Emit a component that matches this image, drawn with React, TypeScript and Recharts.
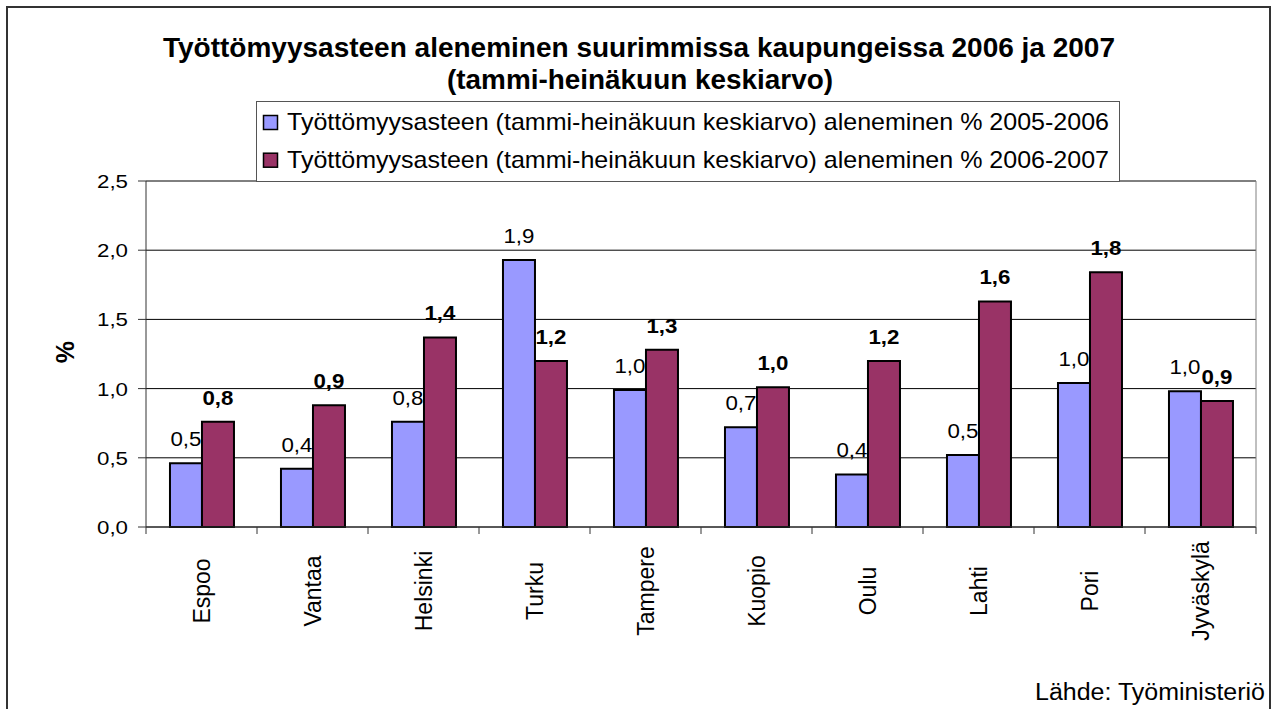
import React from 'react';
import { BarChart, Bar, XAxis, YAxis, CartesianGrid, Legend, LabelList, ReferenceLine } from 'recharts';

// values
const cities = ['Espoo', 'Vantaa', 'Helsinki', 'Turku', 'Tampere', 'Kuopio', 'Oulu', 'Lahti', 'Pori', 'Jyväskylä'];
const drop2005to2006 = [0.46, 0.42, 0.76, 1.93, 0.99, 0.72, 0.38, 0.52, 1.04, 0.98];
const drop2006to2007 = [0.76, 0.88, 1.37, 1.2, 1.28, 1.01, 1.2, 1.63, 1.84, 0.91];
const yTicks = [0, 0.5, 1, 1.5, 2, 2.5];
const seriesNames = [
  'Työttömyysasteen (tammi-heinäkuun keskiarvo) aleneminen % 2005-2006',
  'Työttömyysasteen (tammi-heinäkuun keskiarvo) aleneminen % 2006-2007',
];
const titleLines = [
  'Työttömyysasteen aleneminen suurimmissa kaupungeissa 2006 ja 2007',
  '(tammi-heinäkuun keskiarvo)',
];
const yLabel = '%';
const sourceText = 'Lähde: Työministeriö';

const W = 1273;
const H = 709;
const FONT = 'Arial, "Liberation Sans", sans-serif';
const BLUE = '#9999FF';
const PLUM = '#993366';

const data = cities.map((city, i) => ({
  city,
  a: drop2005to2006[i],
  b: drop2006to2007[i],
}));

const fmt = (v: number) => v.toFixed(1).replace('.', ',');

function YTick({ x, y, payload }: any) {
  return (
    <text x={x} y={y} dy={7} textAnchor="end" fontSize={19} fontFamily={FONT} fill="#000"
      textLength={31} lengthAdjust="spacingAndGlyphs">
      {fmt(Number(payload.value))}
    </text>
  );
}

function XTick({ x, y, payload, index }: any) {
  const half = payload.offset || 55.5;
  const cy = y + 64;
  return (
    <g>
      <line x1={x - half} x2={x - half} y1={y} y2={y + 7} stroke="#333" />
      {index === cities.length - 1 && (
        <line x1={x + half} x2={x + half} y1={y} y2={y + 7} stroke="#333" />
      )}
      <text x={x} y={cy} dy="0.35em" textAnchor="middle" fontSize={23} fontFamily={FONT} fill="#000"
        transform={`rotate(-90, ${x}, ${cy})`}>
        {payload.value}
      </text>
    </g>
  );
}

// data labels: 2005-2006 plain, 2006-2007 bold
const makeLabel = (bold: boolean) => (props: any) => {
  const { x, y, width, value } = props;
  return (
    <text x={Number(x) + Number(width) / 2} y={Number(y) - 17} textAnchor="middle"
      fontSize={20} fontWeight={bold ? 'bold' : 'normal'} fontFamily={FONT} fill="#000"
      textLength={31} lengthAdjust="spacingAndGlyphs">
      {fmt(Number(value))}
    </text>
  );
};

function LegendBox({ payload }: any) {
  return (
    <svg width={862} height={79} style={{ display: 'block' }}>
      {(payload || []).map((p: any, i: number) => (
        <g key={p.value}>
          <rect x={6.5} y={13.5 + i * 37.7} width={14} height={14} fill={p.color} stroke="#000" strokeWidth={1.5} />
          <text x={30} y={28 + i * 37.7} fontSize={24} fontFamily={FONT} fill="#000"
            textLength={822} lengthAdjust="spacingAndGlyphs">
            {p.value}
          </text>
        </g>
      ))}
    </svg>
  );
}

export default function App() {
  return (
    <div style={{ position: 'absolute', left: 0, top: 0, width: W, height: H, overflow: 'hidden', background: '#fff' }}>
      <BarChart width={W} height={H} data={data} barGap={0} barCategoryGap="21.6%"
        margin={{ top: 181, right: 16, bottom: 122, left: 0 }}>
        <CartesianGrid vertical={false} stroke="#000" />
        <ReferenceLine y={2.5} stroke="#808080" />
        <XAxis dataKey="city" height={60} interval={0} tickLine={false} tickSize={0} tickMargin={0}
          axisLine={{ stroke: '#333' }} tick={<XTick />} />
        <YAxis width={146} domain={[0, 2.5]} ticks={yTicks} tickSize={8} tickMargin={10}
          axisLine={{ stroke: '#333' }} tickLine={{ stroke: '#333' }} tick={<YTick />} />
        <YAxis yAxisId="frame" orientation="right" width={1} domain={[0, 2.5]} tick={false}
          tickLine={false} axisLine={{ stroke: '#808080' }} />
        <Legend layout="vertical" align="center" verticalAlign="middle" content={<LegendBox />}
          wrapperStyle={{
            left: 256, top: 101, width: 864, height: 81, border: '1px solid #555',
            background: '#fff', boxSizing: 'border-box',
          }} />
        <Bar dataKey="a" name={seriesNames[0]} fill={BLUE} stroke="#000" strokeWidth={2} isAnimationActive={false}>
          <LabelList dataKey="a" content={makeLabel(false)} />
        </Bar>
        <Bar dataKey="b" name={seriesNames[1]} fill={PLUM} stroke="#000" strokeWidth={2} isAnimationActive={false}>
          <LabelList dataKey="b" content={makeLabel(true)} />
        </Bar>
      </BarChart>

      <svg width={W} height={H} style={{ position: 'absolute', left: 0, top: 0, pointerEvents: 'none' }}>
        <text x={639} y={57} textAnchor="middle" fontSize={28} fontWeight="bold" fontFamily={FONT}
          textLength={952} lengthAdjust="spacingAndGlyphs">{titleLines[0]}</text>
        <text x={640} y={89} textAnchor="middle" fontSize={28} fontWeight="bold" fontFamily={FONT}
          textLength={386} lengthAdjust="spacingAndGlyphs">{titleLines[1]}</text>
        <text x={65} y={352} dy="0.35em" textAnchor="middle" fontSize={25} fontWeight="bold" fontFamily={FONT}
          transform="rotate(-90, 65, 352)">{yLabel}</text>
        <text x={1265} y={700} textAnchor="end" fontSize={23} fontFamily={FONT}
          textLength={230} lengthAdjust="spacingAndGlyphs">{sourceText}</text>
      </svg>

      <div style={{
        position: 'absolute', left: 6, top: 6, width: 1265, height: 740,
        border: '2px solid #333', boxSizing: 'border-box', pointerEvents: 'none',
      }} />
    </div>
  );
}
